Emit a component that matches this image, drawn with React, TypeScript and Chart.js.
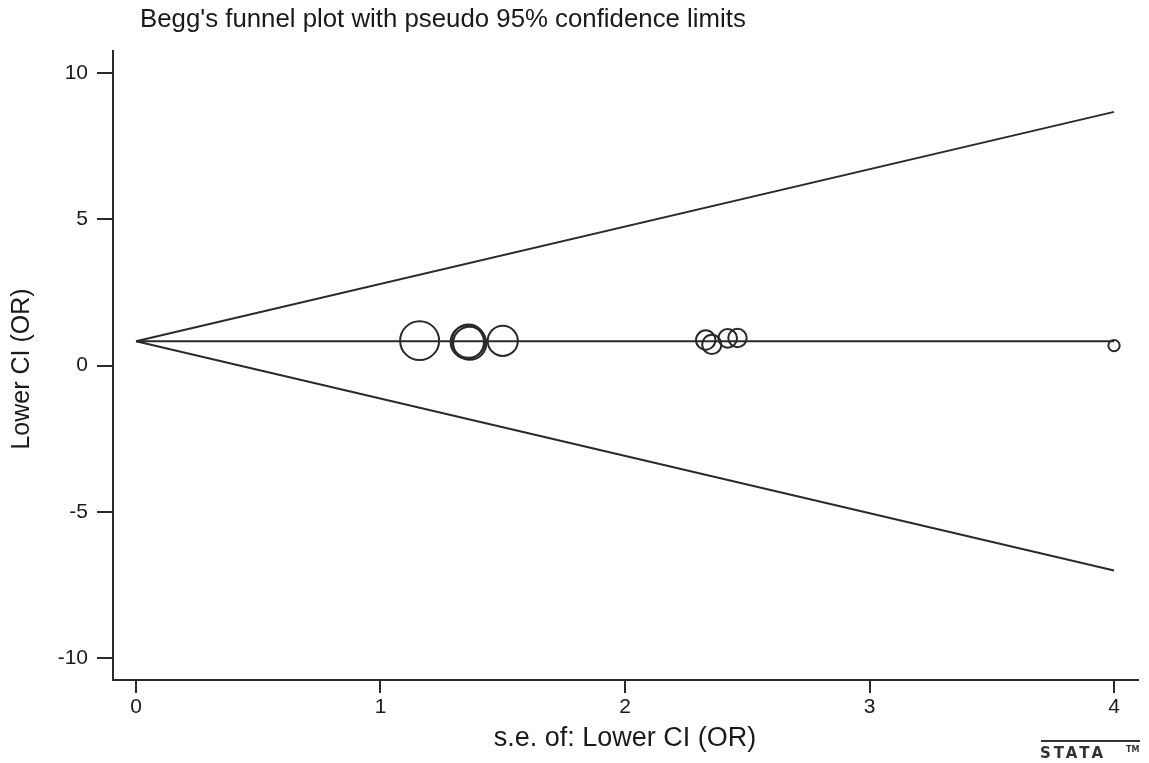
import React, { useEffect, useRef } from "react";
import { Chart, registerables } from "chart.js";

Chart.register(...registerables);

// Study estimates: standard error (x) and Lower CI (OR) (y)
const studySE = [1.16, 1.355, 1.36, 1.365, 1.5, 2.33, 2.355, 2.42, 2.46, 4.0];
const studyLowerCI = [0.85, 0.8, 0.83, 0.76, 0.84, 0.87, 0.72, 0.93, 0.94, 0.68];

// Pseudo 95% confidence limits (endpoints)
const limitSE = [0, 4];
const upperLimit = [0.83, 8.67];
const lowerLimit = [0.83, -7.01];
const pooledLine = [0.83, 0.83];

const xTicks = [0, 1, 2, 3, 4];
const yTicks = [-10, -5, 0, 5, 10];

const titleText = "Begg's funnel plot with pseudo 95% confidence limits";
const xTitle = "s.e. of: Lower CI (OR)";
const yTitle = "Lower CI (OR)";

const FONT = "'Liberation Sans', Arial, sans-serif";
const INK = "#2a2a2a";

export default function App() {
  const ref = useRef<HTMLCanvasElement | null>(null);

  useEffect(() => {
    document.body.style.margin = "0";
    const canvas = ref.current;
    if (!canvas) return;

    const textPlugin = {
      id: "stataTexts",
      afterDraw(chart: any) {
        const ctx = chart.ctx as CanvasRenderingContext2D;
        ctx.save();
        ctx.fillStyle = "#1a1a1a";
        ctx.font = `25.8px ${FONT}`;
        ctx.textAlign = "left";
        ctx.textBaseline = "middle";
        ctx.fillText(titleText, 140, 20);

        ctx.font = `27px ${FONT}`;
        ctx.textAlign = "center";
        ctx.fillText(xTitle, 625, 739);

        ctx.save();
        ctx.font = `25px ${FONT}`;
        ctx.translate(22, 369);
        ctx.rotate(-Math.PI / 2);
        ctx.fillText(yTitle, 0, 0);
        ctx.restore();

        // stata logo
        ctx.strokeStyle = "#333";
        ctx.lineWidth = 2;
        ctx.beginPath();
        ctx.moveTo(1041, 741);
        ctx.lineTo(1140, 741);
        ctx.stroke();
        ctx.font = `bold 15px 'DejaVu Sans', sans-serif`;
        ctx.textAlign = "left";
        ctx.textBaseline = "alphabetic";
        (ctx as any).letterSpacing = "3px";
        ctx.fillStyle = "#333";
        ctx.fillText("STATA", 1040, 758);
        (ctx as any).letterSpacing = "0px";
        ctx.font = `bold 8px 'DejaVu Sans', sans-serif`;
        ctx.fillText("TM", 1126, 752);
        ctx.restore();
      },
    };

    const lineStyle = {
      type: "line" as const,
      borderColor: INK,
      borderWidth: 2,
      pointRadius: 0,
      fill: false,
      tension: 0,
    };

    const chart = new Chart(canvas, {
      type: "scatter",
      data: {
        datasets: [
          {
            ...lineStyle,
            label: "upper limit",
            data: limitSE.map((x, i) => ({ x, y: upperLimit[i] })),
          },
          {
            ...lineStyle,
            label: "lower limit",
            data: limitSE.map((x, i) => ({ x, y: lowerLimit[i] })),
          },
          {
            ...lineStyle,
            label: "pooled",
            data: limitSE.map((x, i) => ({ x, y: pooledLine[i] })),
          },
          {
            label: "studies",
            data: studySE.map((x, i) => ({ x, y: studyLowerCI[i] })),
            backgroundColor: "rgba(0,0,0,0)",
            borderColor: INK,
            borderWidth: 2,
            pointRadius: (c: any) => 22.6 / (c.raw ? c.raw.x : 1),
            pointHoverRadius: (c: any) => 22.6 / (c.raw ? c.raw.x : 1),
          } as any,
        ],
      },
      options: {
        responsive: false,
        animation: false,
        devicePixelRatio: 1,
        layout: {
          autoPadding: false,
          padding: { top: 51, right: 11, left: 0, bottom: 0 },
        },
        plugins: {
          legend: { display: false },
          title: { display: false },
          tooltip: { enabled: false },
        },
        scales: {
          x: {
            type: "linear",
            min: -0.094,
            max: 4.098,
            afterFit: (s: any) => {
              s.height = 83;
              s.paddingLeft = 0;
              s.paddingRight = 0;
            },
            afterBuildTicks: (s: any) => {
              s.ticks = xTicks.map((v) => ({ value: v }));
            },
            border: { display: true, color: INK, width: 2 },
            grid: {
              drawOnChartArea: false,
              drawTicks: true,
              tickLength: 13,
              color: INK,
              lineWidth: 2,
            },
            ticks: {
              color: "#1a1a1a",
              font: { family: FONT, size: 21 },
              padding: 2,
              maxRotation: 0,
            },
          },
          y: {
            type: "linear",
            min: -10.75,
            max: 10.75,
            afterFit: (s: any) => {
              s.width = 113;
              s.paddingTop = 0;
              s.paddingBottom = 0;
            },
            afterBuildTicks: (s: any) => {
              s.ticks = yTicks.map((v) => ({ value: v }));
            },
            border: { display: true, color: INK, width: 2 },
            grid: {
              drawOnChartArea: false,
              drawTicks: true,
              tickLength: 16,
              color: INK,
              lineWidth: 2,
            },
            ticks: {
              color: "#1a1a1a",
              font: { family: FONT, size: 21 },
              padding: 9,
            },
          },
        },
      },
      plugins: [textPlugin],
    });

    return () => chart.destroy();
  }, []);

  return (
    <div style={{ width: 1149, height: 763, background: "#fff" }}>
      <canvas ref={ref} width={1149} height={763} />
    </div>
  );
}
